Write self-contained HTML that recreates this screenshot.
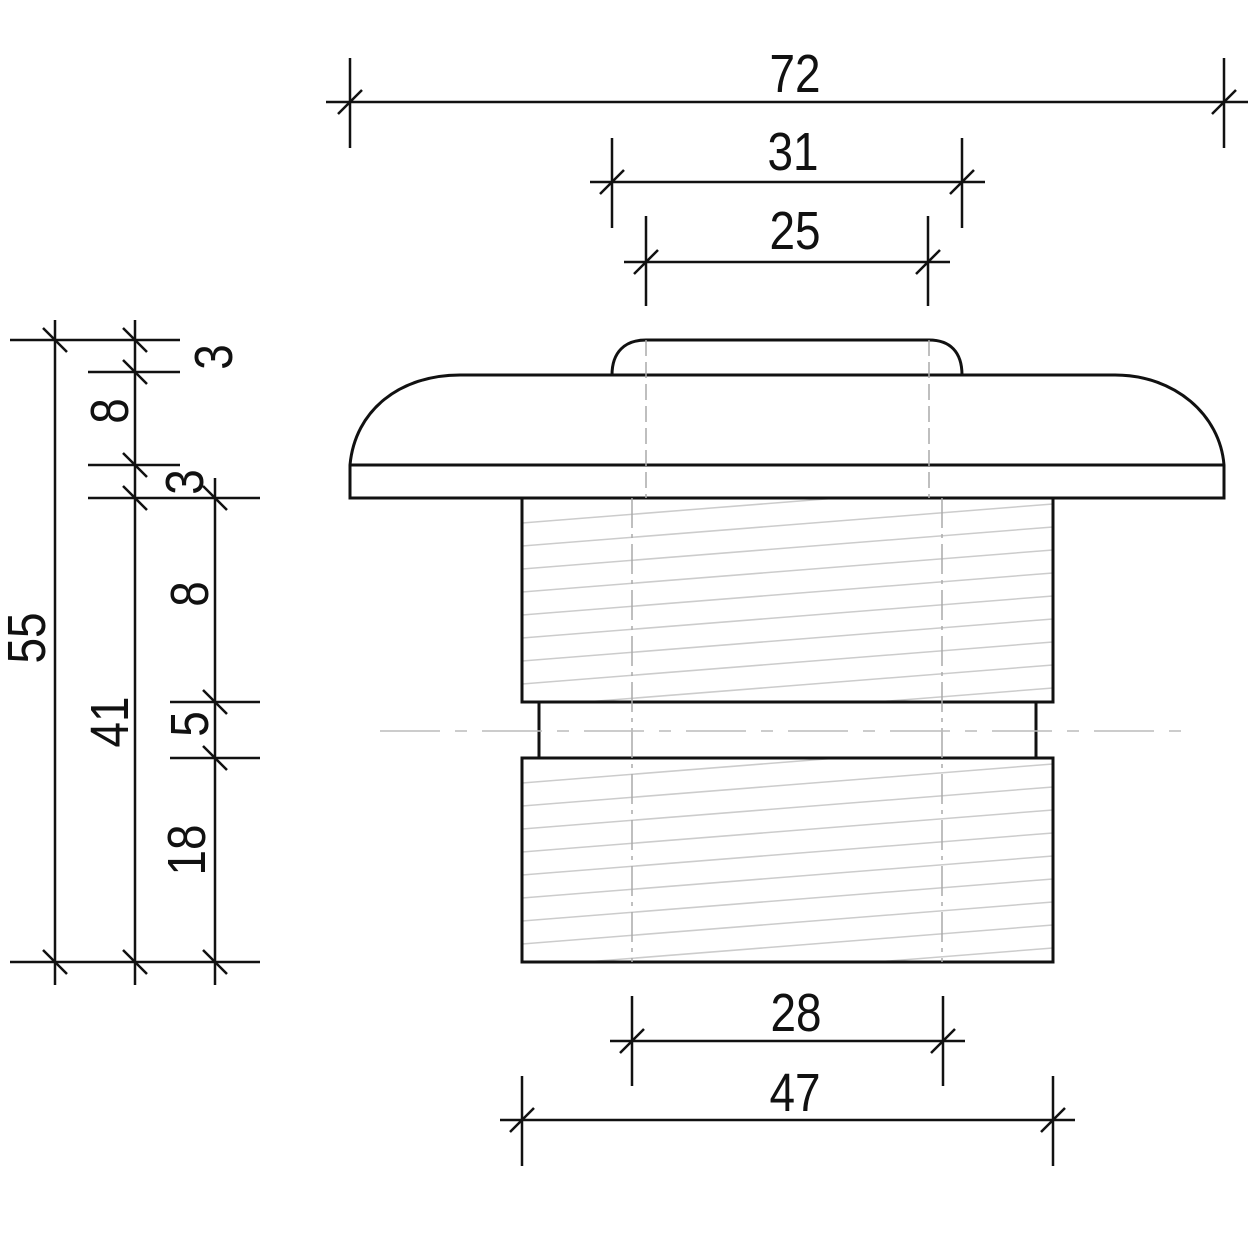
<!DOCTYPE html>
<html><head><meta charset="utf-8"><style>html,body{margin:0;padding:0;background:#fff}svg{display:block}</style></head>
<body>
<svg width="1250" height="1250" viewBox="0 0 1250 1250" xmlns="http://www.w3.org/2000/svg">
<defs>
<clipPath id="c1"><rect x="522" y="498" width="531" height="204"/></clipPath>
<clipPath id="c2"><rect x="522" y="758" width="531" height="204"/></clipPath>
</defs>
<g stroke="#ccc" stroke-width="1.5" clip-path="url(#c1)">
<path d="M522 523 l531 -42 M522 546 l531 -42 M522 569 l531 -42 M522 592 l531 -42 M522 615 l531 -42 M522 638 l531 -42 M522 661 l531 -42 M522 684 l531 -42 M522 707 l531 -42 M522 730 l531 -42 M522 753 l531 -42"/>
</g>
<g stroke="#ccc" stroke-width="1.5" clip-path="url(#c2)">
<path d="M522 783 l531 -42 M522 806 l531 -42 M522 829 l531 -42 M522 852 l531 -42 M522 875 l531 -42 M522 898 l531 -42 M522 921 l531 -42 M522 944 l531 -42 M522 967 l531 -42 M522 990 l531 -42 M522 1013 l531 -42"/>
</g>
<g fill="none" stroke="#111" stroke-width="3">
<rect x="522" y="498" width="531" height="204"/>
<rect x="522" y="758" width="531" height="204"/>
<path d="M539 702 V758 M1036 702 V758"/>
<path d="M350 498 V465 C355 410 400 375 460 375 H1115 C1175 375 1220 415 1224 465 V498 Z"/>
<path d="M350 465 H1224"/>
<path d="M612 375 C612 352 625 340 646 340 H929 C950 340 962 352 962 375"/>
</g>
<g stroke="#aaa" stroke-width="1.5" fill="none">
<path d="M646 340 V498 M929 340 V498" stroke-dasharray="16,6"/>
<path d="M632 498 V962 M942 498 V962" stroke-dasharray="30,6,4,6"/>
<path d="M380 731 H1195" stroke="#bbb" stroke-dasharray="60,15,12,15"/>
</g>
<g stroke="#111" stroke-width="2.5" fill="none">
<path d="M326 102 H1248 M350 58 V148 M1224 58 V148 M338 114 L362 90 M1212 114 L1236 90"/>
<path d="M590 182 H985 M612 138 V228 M962 138 V228 M600 194 L624 170 M950 194 L974 170"/>
<path d="M624 262 H950 M646 216 V306 M928 216 V306 M634 274 L658 250 M916 274 L940 250"/>
<path d="M610 1041 H965 M632 996 V1086 M943 996 V1086 M620 1053 L644 1029 M931 1053 L955 1029"/>
<path d="M500 1120 H1075 M522 1076 V1166 M1053 1076 V1166 M510 1132 L534 1108 M1041 1132 L1065 1108"/>
<path d="M55 320 V985 M135 320 V985 M215 478 V985"/>
<path d="M10 340 H180 M88 372 H180 M88 465 H180 M88 498 H260 M10 962 H260 M170 702 H260 M170 758 H260"/>
<path d="M43 328 L67 352 M123 328 L147 352 M123 360 L147 384 M123 453 L147 477 M123 486 L147 510 M203 486 L227 510 M203 690 L227 714 M203 746 L227 770 M43 950 L67 974 M123 950 L147 974 M203 950 L227 974"/>
</g>
<g font-family="Liberation Sans, sans-serif" font-size="54" fill="#111" text-anchor="middle">
<text transform="translate(795 92) scale(0.85 1)">72</text>
<text transform="translate(793 170) scale(0.85 1)">31</text>
<text transform="translate(795 249) scale(0.85 1)">25</text>
<text transform="translate(796 1031) scale(0.85 1)">28</text>
<text transform="translate(795 1111) scale(0.85 1)">47</text>
<text transform="translate(45 638) rotate(-90) scale(0.85 1)">55</text>
<text transform="translate(128 722) rotate(-90) scale(0.85 1)">41</text>
<text transform="translate(232 357) rotate(-90) scale(0.85 1)">3</text>
<text transform="translate(128 411) rotate(-90) scale(0.85 1)">8</text>
<text transform="translate(203 482) rotate(-90) scale(0.85 1)">3</text>
<text transform="translate(208 594) rotate(-90) scale(0.85 1)">8</text>
<text transform="translate(208 724) rotate(-90) scale(0.85 1)">5</text>
<text transform="translate(205 850) rotate(-90) scale(0.85 1)">18</text>
</g>
</svg>
</body></html>
